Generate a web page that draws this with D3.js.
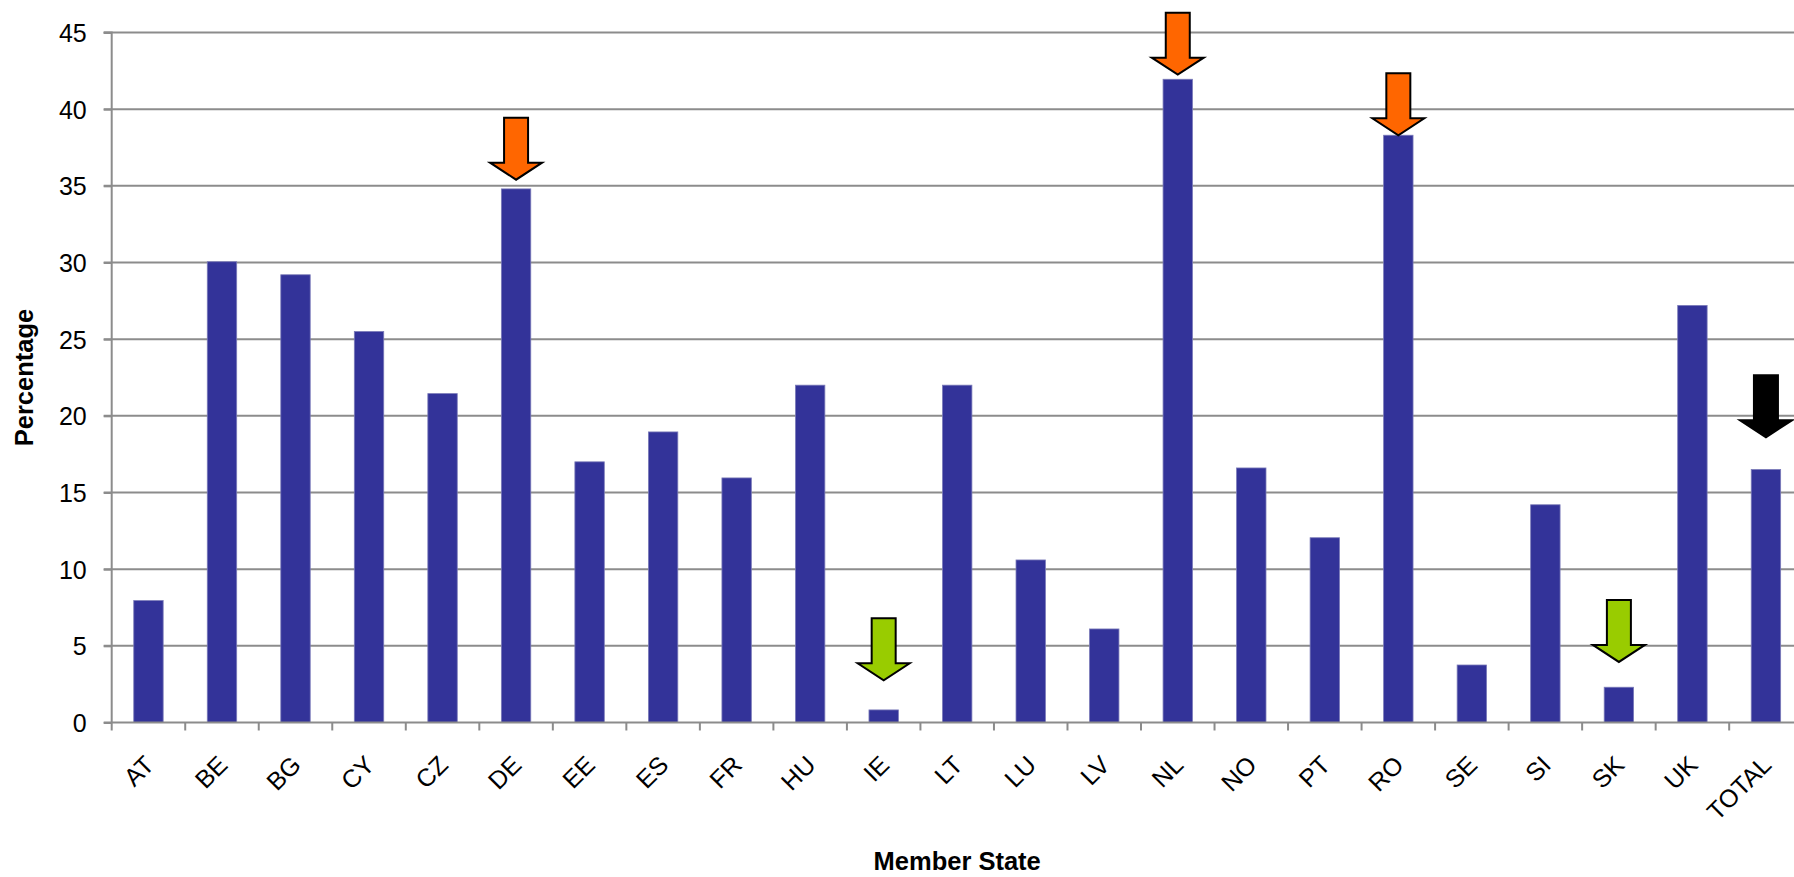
<!DOCTYPE html>
<html>
<head>
<meta charset="utf-8">
<script src="https://cdn.jsdelivr.net/npm/d3@7"></script>
<style>
  html, body { margin: 0; padding: 0; background: #ffffff; overflow: hidden; }
  svg { display: block; font-family: "Liberation Sans", Arial, sans-serif; }
</style>
</head>
<body>
<svg id="chart" width="1794" height="877"></svg>
<script>
const categories = ["AT","BE","BG","CY","CZ","DE","EE","ES","FR","HU","IE","LT","LU","LV","NL","NO","PT","RO","SE","SI","SK","UK","TOTAL"];
const values = [7.95, 30.05, 29.2, 25.5, 21.45, 34.8, 17.0, 18.95, 15.95, 22.0, 0.82, 22.0, 10.6, 6.1, 41.95, 16.6, 12.05, 38.3, 3.75, 14.2, 2.3, 27.2, 16.5];
const yTicks = [0, 5, 10, 15, 20, 25, 30, 35, 40, 45];
const yTitle = "Percentage";
const xTitle = "Member State";

// Annotation arrows: category, colour, value at which the arrow tip points
const arrowCats = ["DE", "IE", "NL", "RO", "SK", "TOTAL"];
const arrowColors = ["#ff6600", "#99cc00", "#ff6600", "#ff6600", "#99cc00", "#000000"];
const arrowTips = [35.4, 2.75, 42.25, 38.3, 3.95, 18.6];

const svg = d3.select("#chart");
const x0 = 111.7, x1 = 1802.7, yTop = 32.5, yBot = 722.5;

const x = d3.scaleBand().domain(categories).range([x0, x1]).padding(0);
const y = d3.scaleLinear().domain([0, 45]).range([yBot, yTop]);

const gridColor = "#8c8c8c";

// gridlines
svg.append("g").selectAll("line").data(yTicks.filter(d => d > 0)).join("line")
  .attr("x1", x0 - 8).attr("x2", x1)
  .attr("y1", d => y(d)).attr("y2", d => y(d))
  .attr("stroke", gridColor).attr("stroke-width", 2);

// bars
const barW = x.bandwidth() * 0.40;
svg.append("g").selectAll("rect").data(categories).join("rect")
  .attr("x", d => x(d) + x.bandwidth() / 2 - barW / 2)
  .attr("width", barW)
  .attr("y", (d, i) => y(values[i]))
  .attr("height", (d, i) => y(0) - y(values[i]))
  .attr("fill", "#333399")
  .attr("stroke", "#7a7ab8").attr("stroke-width", 0.8);

// y axis
const yAxis = d3.axisLeft(y).tickValues(yTicks).tickSize(8).tickPadding(17).tickFormat(d3.format("d"));
const gy = svg.append("g").attr("transform", `translate(${x0},0)`).call(yAxis);
gy.select(".domain").attr("stroke", gridColor).attr("stroke-width", 2).attr("d", `M-8,${yTop}H0V${yBot}`);
gy.selectAll(".tick line").attr("stroke", gridColor).attr("stroke-width", 2);
gy.selectAll(".tick text").attr("font-size", 25).attr("fill", "#000")
  .attr("font-family", "Liberation Sans, Arial, sans-serif").attr("dy", "0.36em");

// x axis line and ticks at band boundaries
const boundaries = categories.map(c => x(c)).concat([x1]);
svg.append("line").attr("x1", x0 - 8).attr("x2", x1).attr("y1", yBot).attr("y2", yBot)
  .attr("stroke", gridColor).attr("stroke-width", 2);
svg.append("g").selectAll("line").data(boundaries).join("line")
  .attr("x1", d => d).attr("x2", d => d).attr("y1", yBot).attr("y2", yBot + 8)
  .attr("stroke", gridColor).attr("stroke-width", 2);

// x tick labels rotated -45
svg.append("g").selectAll("text").data(categories).join("text")
  .attr("transform", d => `translate(${x(d) + x.bandwidth() / 2 + 7},${yBot + 44}) rotate(-45)`)
  .attr("text-anchor", "end")
  .attr("font-size", 25).attr("fill", "#000")
  .text(d => d);

// arrows
const arrowPath = "M-12,-62H12V-17H26L0,0L-26,-17H-12Z";
svg.append("g").selectAll("path").data(arrowCats).join("path")
  .attr("transform", (d, i) => `translate(${x(d) + x.bandwidth() / 2},${y(arrowTips[i])})`)
  .attr("d", arrowPath)
  .attr("fill", (d, i) => arrowColors[i])
  .attr("stroke", "#000").attr("stroke-width", 2).attr("stroke-linejoin", "miter");

// axis titles
svg.append("text")
  .attr("x", (x0 + x1) / 2).attr("y", 870)
  .attr("text-anchor", "middle").attr("font-weight", "bold").attr("font-size", 25.5)
  .attr("fill", "#000").text(xTitle);
svg.append("text")
  .attr("transform", `translate(33,${(yTop + yBot) / 2}) rotate(-90)`)
  .attr("text-anchor", "middle").attr("font-weight", "bold").attr("font-size", 25.5)
  .attr("fill", "#000").text(yTitle);
</script>
</body>
</html>
